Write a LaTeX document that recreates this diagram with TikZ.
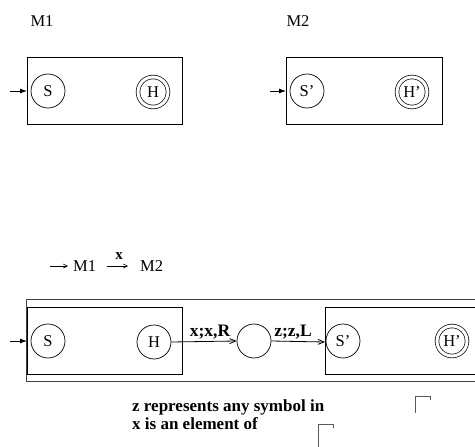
\documentclass[tikz,border=0pt]{standalone}
\usepackage{fontspec}
\setmainfont{Liberation Serif}
\usetikzlibrary{arrows.meta}
\tikzset{
  lbl/.style={inner sep=0pt,font=\fontsize{16.5}{18}\selectfont},
  blbl/.style={inner sep=0pt,font=\fontsize{17}{19}\selectfont\bfseries},
  st/.style={draw,circle,minimum size=34pt,inner sep=0pt,line width=0.7pt,font=\fontsize{16.5}{18}\selectfont},
  fin/.style={draw,circle,double,double distance=3pt,minimum size=30pt,inner sep=0pt,line width=0.7pt,font=\fontsize{16.5}{18}\selectfont},
  mbox/.style={draw,line width=0.8pt},
  entry/.style={line width=0.8pt,-{Latex[length=7pt,width=5pt]}},
  trans/.style={line width=0.8pt,-{Straight Barb[length=6pt,width=5pt]}},
  thinarr/.style={line width=0.6pt,-{Straight Barb[length=4pt,width=4pt]}},
  cornermark/.style={line width=1pt,draw=black!65}
}
\begin{document}
\begin{tikzpicture}[x=1pt,y=-1pt]
\useasboundingbox (0,0) rectangle (475,447);
\clip (0,0) rectangle (475,447);
% top machines
\node[lbl] (m1lab) at (42,21) {M1};
\node[lbl] (m2lab) at (298,21) {M2};
\draw[mbox] (27,57) rectangle (182,124);
\coordinate (b1w) at (27,91);
\coordinate (e1) at (10,91);
\node[st] (s1) at (48,91) {S};
\node[fin] (h1) at (153,92) {H};
\draw[entry] (e1) -- (b1w);
\draw[mbox] (286,57) rectangle (442,124);
\coordinate (b2w) at (286,91);
\coordinate (e2) at (270,91);
\node[st] (s2) at (307,91) {S’};
\node[fin] (h2) at (412,92) {H’};
\draw[entry] (e2) -- (b2w);
% expression
\coordinate (xa) at (50,266);
\coordinate (xae) at (68,266);
\node[lbl,anchor=west] (m1e) at (73,266) {M1};
\node[lbl,anchor=west] (m2e) at (140,266) {M2};
\draw[thinarr] (xa) -- (xae);
\coordinate (xb1) at (107,266);
\coordinate (xb2) at (128,266);
\draw[thinarr] (xb1) -- (xb2);
\node[inner sep=0pt,font=\fontsize{15}{16}\selectfont\bfseries] (xl) at (119,256) {x};
% combined machine
\draw[mbox,draw=black!75] (26,299) rectangle (500,381);
\draw[mbox] (27,307) rectangle (182,374);
\draw[mbox] (325,307) rectangle (500,374);
\coordinate (e3) at (10,341);
\coordinate (b3w) at (27,341);
\draw[entry] (e3) -- (b3w);
\node[st] (s3) at (48,341) {S};
\node[st] (h3) at (154,342) {H};
\node[st] (mid) at (254,341) {};
\coordinate (b4w) at (325,342);
\node[st] (s4) at (343,341) {S’};
\node[fin] (h4) at (452,341) {H’};
\draw[trans] (h3.east) -- (mid.west);
\draw[trans] (mid.east) -- (b4w);
\node[blbl,font=\fontsize{17.5}{19}\selectfont\bfseries] (l1) at (210,332) {x;x,R};
\node[blbl,font=\fontsize{17.5}{19}\selectfont\bfseries] (l2) at (293,332) {z;z,L};
% notes
\node[blbl,anchor=west] (n1) at (132,407) {z represents any symbol in};
\node[blbl,anchor=west] (n2) at (132,424) {x is an element of};
\draw[cornermark] (415,413) -- (415,396) -- (430,396) -- (430,400);
\draw[cornermark] (318,450) -- (318,424) -- (333,424) -- (333,428);
\end{tikzpicture}
\end{document}
